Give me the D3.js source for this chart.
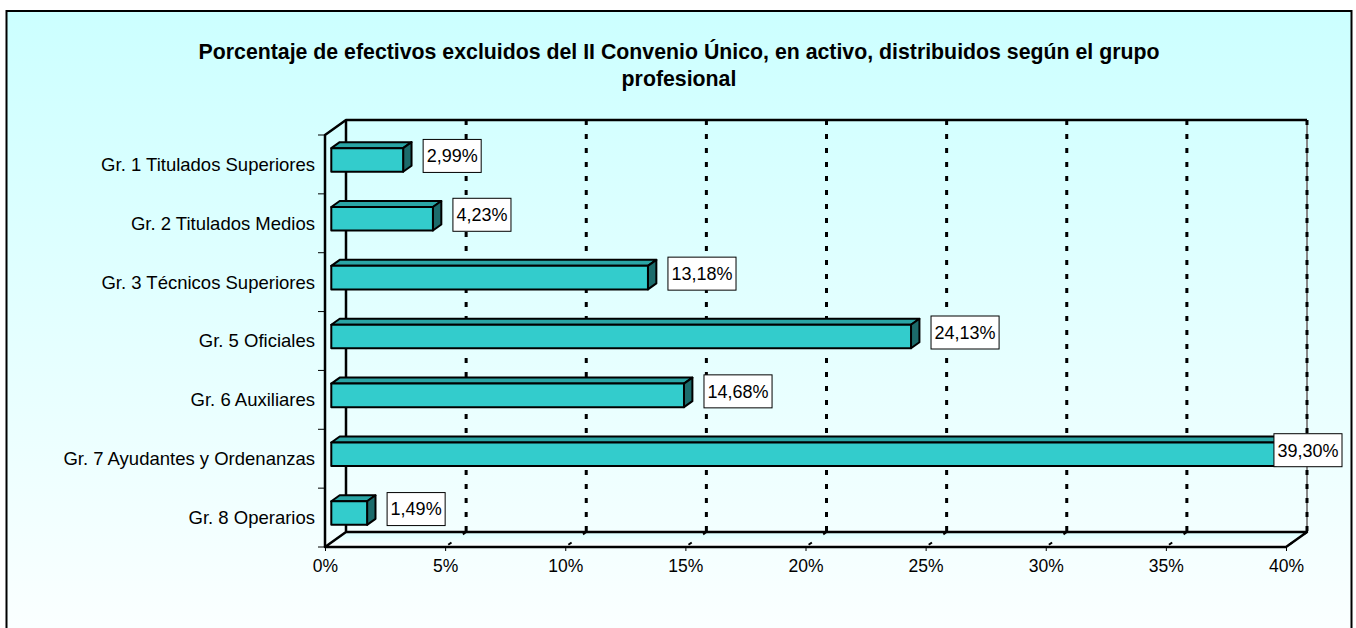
<!DOCTYPE html>
<html>
<head>
<meta charset="utf-8">
<script src="https://cdn.jsdelivr.net/npm/d3@7"></script>
<style>
  body { margin: 0; background: #fff; }
  text { font-family: Arial, "Liberation Sans", sans-serif; fill: #000; }
</style>
</head>
<body>
<div id="chart"></div>
<script>
// data
const categories = [
  "Gr. 1 Titulados Superiores",
  "Gr. 2 Titulados Medios",
  "Gr. 3 Técnicos Superiores",
  "Gr. 5 Oficiales",
  "Gr. 6 Auxiliares",
  "Gr. 7 Ayudantes y Ordenanzas",
  "Gr. 8 Operarios"
];
const values = [2.99, 4.23, 13.18, 24.13, 14.68, 39.30, 1.49];
const xTicks = [0, 5, 10, 15, 20, 25, 30, 35, 40];
const titleLines = [
  "Porcentaje de efectivos excluidos del II Convenio Único, en activo, distribuidos según el grupo",
  "profesional"
];

const W = 1356, H = 628;
const front = {left: 325, right: 1286, top: 135, bottom: 547};
const depth = {dx: 21, dy: -15};

const svg = d3.select("#chart").append("svg")
  .attr("width", W).attr("height", H);

const defs = svg.append("defs");
const bg = defs.append("linearGradient").attr("id", "bg")
  .attr("x1", 0).attr("y1", 0).attr("x2", 0).attr("y2", 1);
bg.append("stop").attr("offset", "0%").attr("stop-color", "#ccffff");
bg.append("stop").attr("offset", "100%").attr("stop-color", "#ffffff");
const fl = defs.append("linearGradient").attr("id", "floor")
  .attr("x1", 0).attr("y1", 0).attr("x2", 0).attr("y2", 1);
fl.append("stop").attr("offset", "0%").attr("stop-color", "#d9ffff");
fl.append("stop").attr("offset", "100%").attr("stop-color", "#ffffff");

// outer frame
svg.append("rect")
  .attr("x", 6.5).attr("y", 11).attr("width", 1345).attr("height", 680)
  .attr("fill", "url(#bg)").attr("stroke", "#000").attr("stroke-width", 2);

// title
svg.append("g").selectAll("text").data(titleLines).join("text")
  .attr("x", 679).attr("y", (d, i) => 59 + i * 27)
  .attr("text-anchor", "middle")
  .style("font-weight", "bold").style("font-size", "21.3px")
  .text(d => d);

const x = d3.scaleLinear().domain([0, 40]).range([front.left, front.right]);
const y = d3.scaleBand().domain(categories).range([front.top, front.bottom]);

const g = svg.append("g");
const line = d3.line();

// floor
g.append("path")
  .attr("d", line([[x(0), front.bottom], [x(40), front.bottom],
    [x(40) + depth.dx, front.bottom + depth.dy], [x(0) + depth.dx, front.bottom + depth.dy]]) + "Z")
  .attr("fill", "url(#floor)").attr("stroke", "none");

// gridlines on back wall and floor
const dash = "5,9";
xTicks.filter(d => d > 0).forEach(v => {
  if (v === 40) {
    g.append("line")
      .attr("x1", x(v) + depth.dx).attr("x2", x(v) + depth.dx)
      .attr("y1", front.top + depth.dy).attr("y2", front.bottom + depth.dy)
      .attr("stroke", "#888").attr("stroke-width", 2);
  }
  g.append("line")
    .attr("x1", x(v) + depth.dx).attr("x2", x(v) + depth.dx)
    .attr("y1", front.top + depth.dy).attr("y2", front.bottom + depth.dy)
    .attr("stroke", "#000").attr("stroke-width", 3)
    .attr("stroke-dasharray", dash);
  g.append("line")
    .attr("x1", x(v) + depth.dx).attr("x2", x(v))
    .attr("y1", front.bottom + depth.dy).attr("y2", front.bottom)
    .attr("stroke", "#000").attr("stroke-width", 2)
    .attr("stroke-dasharray", "4,14");
});

// walls outline
const walls = [
  [[x(0), front.bottom], [x(0), front.top], [x(0) + depth.dx, front.top + depth.dy],
   [x(40) + depth.dx, front.top + depth.dy]],
  [[x(0) + depth.dx, front.top + depth.dy], [x(0) + depth.dx, front.bottom + depth.dy],
   [x(40) + depth.dx, front.bottom + depth.dy], [x(40), front.bottom], [x(0), front.bottom],
   [x(0) + depth.dx, front.bottom + depth.dy]]
];
walls.forEach(p => g.append("path").attr("d", line(p))
  .attr("fill", "none").attr("stroke", "#000").attr("stroke-width", 2.5)
  .attr("stroke-linejoin", "round"));

// category boundary ticks on front y axis
const bounds = categories.map(c => y(c)).concat([front.bottom]);
g.selectAll(".ytick").data(bounds).join("line")
  .attr("x1", front.left - 7).attr("x2", front.left)
  .attr("y1", d => d).attr("y2", d => d)
  .attr("stroke", "#000").attr("stroke-width", 1);

// y labels
const yAxis = g.append("g").attr("transform", `translate(${front.left - 10},0)`)
  .call(d3.axisLeft(y).tickSize(0).tickPadding(0));
yAxis.select(".domain").remove();
yAxis.selectAll("text").style("font-size", "18.5px").attr("dy", "0.35em")
  .attr("font-family", null);

// x axis
const xAxis = g.append("g").attr("transform", `translate(0,${front.bottom})`)
  .call(d3.axisBottom(x).tickValues(xTicks).tickSize(4).tickPadding(9)
    .tickFormat(d => d + "%"));
xAxis.select(".domain").remove();
xAxis.selectAll("line").attr("stroke", "#000");
xAxis.selectAll("text").style("font-size", "17.5px").attr("font-family", null);

// bars (3D): bar sits from 0.3 to 0.7 of depth
const bo = {dx: depth.dx * 0.3, dy: depth.dy * 0.3};
const bd = {dx: depth.dx * 0.4, dy: depth.dy * 0.4};
const bh = y.bandwidth() * 0.4;
const bars = g.append("g");
categories.forEach((c, i) => {
  const x0 = x(0) + bo.dx, x1 = x(values[i]) + bo.dx;
  const y0 = y(c) + y.bandwidth() / 2 - bh / 2 + bo.dy, y1 = y0 + bh;
  const top = [[x0, y0], [x1, y0], [x1 + bd.dx, y0 + bd.dy], [x0 + bd.dx, y0 + bd.dy]];
  const side = [[x1, y0], [x1 + bd.dx, y0 + bd.dy], [x1 + bd.dx, y1 + bd.dy], [x1, y1]];
  const face = [[x0, y0], [x1, y0], [x1, y1], [x0, y1]];
  [[top, "#2aa5a5"], [side, "#1c6b6b"], [face, "#33cccc"]].forEach(([p, col]) => {
    bars.append("path").attr("d", line(p) + "Z")
      .attr("fill", col).attr("stroke", "#000").attr("stroke-width", 2)
      .attr("stroke-linejoin", "round");
  });
});

// data labels
const labels = g.append("g");
categories.forEach((c, i) => {
  const t = labels.append("text")
    .style("font-size", "18px")
    .text(values[i].toFixed(2).replace(".", ",") + "%");
  const tw = t.node().getComputedTextLength();
  const bw = tw + 7, bhh = 33;
  let bx = x(values[i]) + bo.dx + 20;
  bx = Math.min(bx, 1342 - bw);
  const cy = y(c) + y.bandwidth() / 2 + bo.dy - 4;
  labels.insert("rect", "text:last-child")
    .attr("x", bx).attr("y", cy - bhh / 2).attr("width", bw).attr("height", bhh)
    .attr("fill", "#fff").attr("stroke", "#000").attr("stroke-width", 1);
  t.attr("x", bx + bw / 2).attr("y", cy).attr("dy", "0.35em").attr("text-anchor", "middle");
  t.raise();
});
</script>
</body>
</html>
